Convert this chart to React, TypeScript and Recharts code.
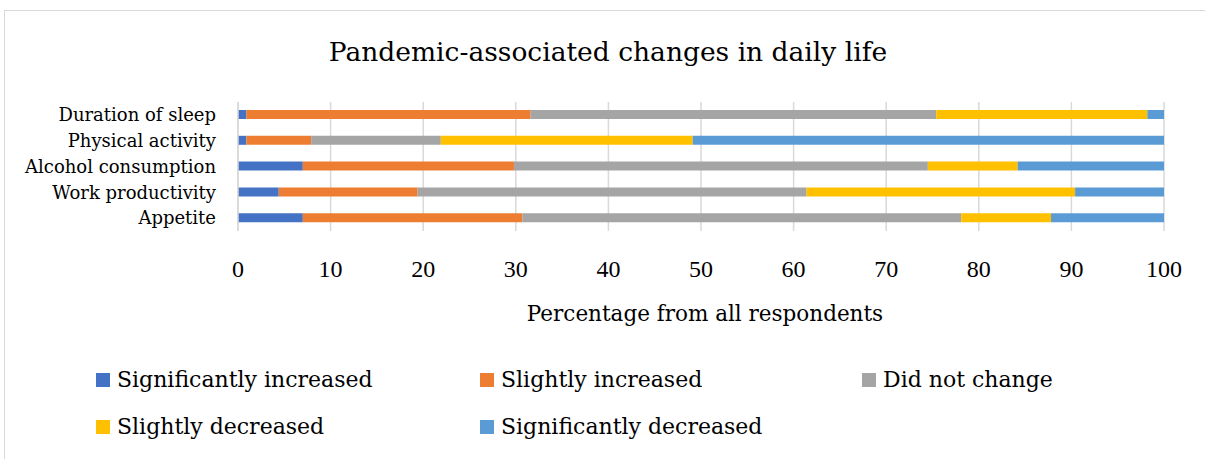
import { BarChart, Bar, XAxis, YAxis, CartesianGrid } from "recharts";

const categories = [
  "Duration of sleep",
  "Physical activity",
  "Alcohol consumption",
  "Work productivity",
  "Appetite",
];

const seriesNames = [
  "Significantly increased",
  "Slightly increased",
  "Did not change",
  "Slightly decreased",
  "Significantly decreased",
];

const seriesColors = ["#4472C4", "#ED7D31", "#A5A5A5", "#FFC000", "#5B9BD5"];

// one value per category, same order as categories
const sigIncreased = [0.9, 0.9, 7.0, 4.4, 7.0];
const slightIncreased = [30.7, 7.0, 22.8, 15.0, 23.7];
const didNotChange = [43.8, 14.0, 44.7, 42.0, 47.4];
const slightDecreased = [22.8, 27.2, 9.7, 29.0, 9.7];
const sigDecreased = [1.8, 50.9, 15.8, 9.6, 12.2];

const xTicks = [0, 10, 20, 30, 40, 50, 60, 70, 80, 90, 100];
const edgeTicks = [0, 1, 2, 3, 4, 5];

const FONT = "'DejaVu Serif', serif";
const NUM_FONT = "'Liberation Serif', 'Times New Roman', serif";
const GRID = "#d9d9d9";

const seriesValues = [sigIncreased, slightIncreased, didNotChange, slightDecreased, sigDecreased];

const data = categories.map((name, i) => {
  const row: Record<string, string | number> = { name };
  seriesNames.forEach((s, j) => {
    row[s] = seriesValues[j][i];
  });
  return row;
});

// legend positions (Excel-style two-row layout)
const legendSlots = [
  { left: 96, top: 367 },
  { left: 480, top: 367 },
  { left: 862, top: 367 },
  { left: 96, top: 414 },
  { left: 480, top: 414 },
];

export default function App() {
  return (
    <div
      style={{
        position: "absolute",
        left: 0,
        top: 0,
        width: 1205,
        height: 459,
        overflow: "hidden",
        background: "#fff",
        fontFamily: FONT,
      }}
    >
      <div
        style={{
          position: "absolute",
          left: 4,
          top: 10,
          width: 1220,
          height: 470,
          border: `1px solid ${GRID}`,
        }}
      />
      <div
        style={{
          position: "absolute",
          left: 0,
          width: 1216,
          top: 36,
          textAlign: "center",
          fontSize: 26.5,
          lineHeight: "normal",
          color: "#000",
        }}
      >
        Pandemic-associated changes in daily life
      </div>

      <div style={{ position: "absolute", left: 0, top: 0 }}>
        <BarChart
          width={1205}
          height={459}
          data={data}
          layout="vertical"
          margin={{ top: 102, right: 41, bottom: 128, left: 0 }}
        >
          <CartesianGrid horizontal={false} stroke={GRID} strokeWidth={1.5} />
          <XAxis
            type="number"
            domain={[0, 100]}
            ticks={xTicks}
            axisLine={false}
            tickLine={false}
            tickSize={0}
            tickMargin={29}
            height={100}
            tick={{ fontSize: 24, fill: "#000", fontFamily: NUM_FONT }}
            label={{
              value: "Percentage from all respondents",
              position: "insideTop",
              offset: 75,
              dx: 4,
              style: { fontSize: 21.5, fill: "#000", fontFamily: FONT },
            }}
          />
          <YAxis
            yAxisId="cat"
            type="category"
            dataKey="name"
            width={238}
            interval={0}
            axisLine={{ stroke: GRID, strokeWidth: 1.5 }}
            tickLine={false}
            tickSize={0}
            tickMargin={22}
            tick={{ fontSize: 18, fill: "#000", fontFamily: FONT }}
          />
          <YAxis
            yAxisId="edges"
            type="number"
            domain={[0, 5]}
            ticks={edgeTicks}
            width={0}
            axisLine={false}
            tick={false}
            tickSize={5}
            tickLine={{ stroke: GRID, strokeWidth: 1.5 }}
          />
          {seriesNames.map((s, j) => (
            <Bar
              key={s}
              yAxisId="cat"
              dataKey={s}
              stackId="a"
              fill={seriesColors[j]}
              barSize={9}
              isAnimationActive={false}
            />
          ))}
        </BarChart>
      </div>

      {seriesNames.map((s, j) => (
        <div
          key={s}
          style={{
            position: "absolute",
            left: legendSlots[j].left,
            top: legendSlots[j].top,
            display: "flex",
            alignItems: "center",
            fontSize: 22,
            lineHeight: "normal",
            color: "#000",
            whiteSpace: "nowrap",
          }}
        >
          <span
            style={{
              display: "inline-block",
              width: 14,
              height: 14,
              background: seriesColors[j],
              marginRight: 7,
            }}
          />
          {s}
        </div>
      ))}
    </div>
  );
}
